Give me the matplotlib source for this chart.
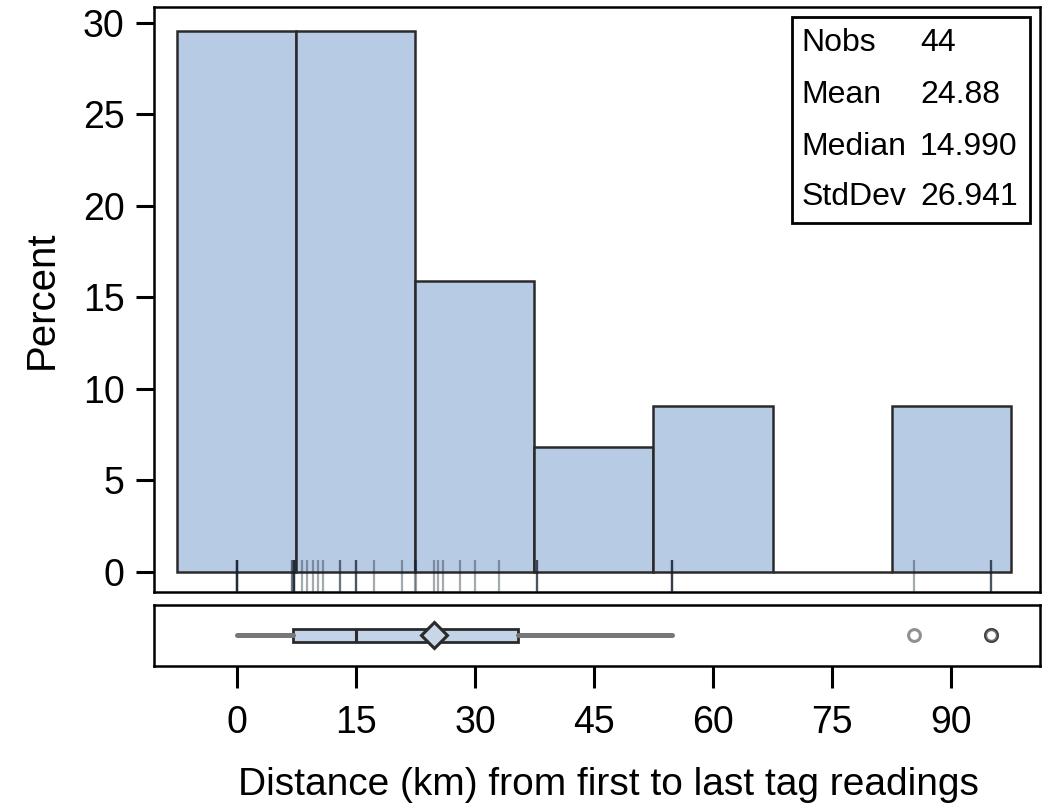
import matplotlib
matplotlib.use("Agg")
import matplotlib.pyplot as plt
from matplotlib.patches import Rectangle

plt.rcParams['font.family'] = ['Liberation Sans Narrow', 'Liberation Sans', 'DejaVu Sans']

# histogram bins (midpoints, km) and percent of observations
bin_mids = [0, 15, 30, 45, 60, 75, 90]
bin_pct = [29.55, 29.55, 15.91, 6.82, 9.09, 0.0, 9.09]
bin_width = 15

# rug: individual distances (repeats show as darker ticks)
rug_km = [0, 0, 0, 0, 0, 0, 7.0, 7.0, 7.2, 7.2, 7.2, 7.2, 7.2,
          8.2, 8.8, 9.6, 10.2, 10.9, 13.0, 13.0, 15.0, 15.0, 15.0, 17.3, 20.8, 22.4,
          22.6, 24.8, 25.4, 26.0, 28.1, 30.0, 33.0,
          37.8, 37.8, 37.8,
          54.8, 54.8, 54.8, 54.8,
          85.3, 95.0, 95.0, 95.0]

# box plot summary
box_q1, box_med, box_q3 = 7.1, 15.0, 35.4
box_mean = 24.88
whisk_lo, whisk_hi = 0.0, 54.8
outliers = [85.3, 95.0, 95.0, 95.0]

stat_names = ['Nobs', 'Mean', 'Median', 'StdDev']
stat_vals = ['44', '24.88', '14.990', '26.941']

xticks = [0, 15, 30, 45, 60, 75, 90]
yticks = [0, 5, 10, 15, 20, 25, 30]

fill = '#b7cbe4'
edge = '#2a2a2a'

fig = plt.figure(figsize=(10.53, 8.06), dpi=100)
ax = fig.add_axes([0.1462, 0.2655, 0.8414, 0.7264])
axb = fig.add_axes([0.1462, 0.1737, 0.8414, 0.0757], sharex=ax)

ax.bar(bin_mids, bin_pct, width=bin_width, color=fill, edgecolor=edge, linewidth=1.8, zorder=2)
ax.vlines(rug_km, -1.1, 0.65, color='#14202e', alpha=0.38, linewidth=1.6, zorder=3)

ax.set_xlim(-10.45, 101.2)
ax.set_ylim(-1.1, 30.9)
ax.set_yticks(yticks)
ax.set_ylabel('Percent', fontsize=29, labelpad=16)
ax.tick_params(axis='y', length=13, width=2.2, labelsize=27, pad=8)
ax.tick_params(axis='x', bottom=False, labelbottom=False)

# inset statistics table
ax.add_patch(Rectangle((0.7197, 0.6302), 0.269, 0.3524, transform=ax.transAxes,
                       fill=False, edgecolor='black', linewidth=2, zorder=5))
row_y = [0.9377, 0.8488, 0.7600, 0.6746]
for name, val, yy in zip(stat_names, stat_vals, row_y):
    ax.text(0.731, yy, name, transform=ax.transAxes, fontsize=23, va='center', ha='left')
    ax.text(0.8646, yy, val, transform=ax.transAxes, fontsize=23, va='center', ha='left')

# box plot panel
stats = [dict(med=box_med, q1=box_q1, q3=box_q3, whislo=whisk_lo, whishi=whisk_hi,
              mean=box_mean, fliers=outliers)]
axb.bxp(stats, positions=[0], widths=0.42, orientation='horizontal', showmeans=True,
        showcaps=False, patch_artist=True,
        boxprops=dict(facecolor='#c3d3e8', edgecolor=edge, linewidth=2),
        medianprops=dict(color=edge, linewidth=2.2),
        whiskerprops=dict(color='#777777', linewidth=3.6, solid_capstyle='round'),
        meanprops=dict(marker='D', markersize=13, markerfacecolor='#c9d6e8',
                       markeredgecolor=edge, markeredgewidth=2.2),
        flierprops=dict(marker='o', markersize=8.5, markerfacecolor='white',
                        markeredgecolor='#222222', markeredgewidth=2.2, alpha=0.5))
axb.set_ylim(-1, 1)
axb.set_yticks([])
axb.set_xticks(xticks)
axb.set_xticklabels([str(t) for t in xticks])
axb.tick_params(axis='x', length=16, width=2.2, labelsize=27, pad=12)
axb.set_xlabel('Distance (km) from first to last tag readings', fontsize=28, va='center')
axb.xaxis.set_label_coords(0.513, -1.95)

for a in (ax, axb):
    for s in a.spines.values():
        s.set_linewidth(1.8)
        s.set_color('black')

fig.savefig('out.png', dpi=100)
